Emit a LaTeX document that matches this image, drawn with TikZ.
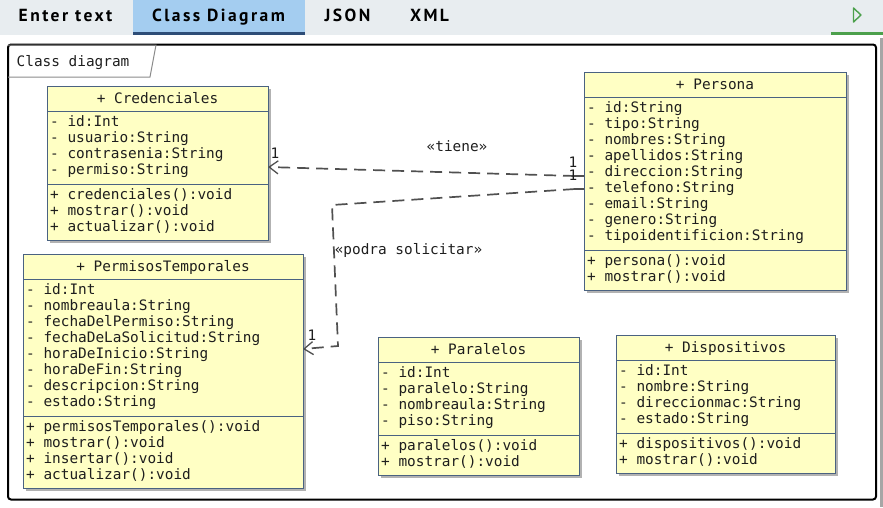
\documentclass[tikz,border=0pt]{standalone}
\usepackage{fontspec}
\newfontfamily\monof{DejaVu Sans Mono}
\newfontfamily\tabf[LetterSpace=14]{PT Sans}
\usetikzlibrary{arrows.meta,calc,shadows}
\definecolor{barbg}{HTML}{E8EDF0}
\definecolor{tabhl}{HTML}{A4CDF0}
\definecolor{tabline}{HTML}{2E4D77}
\definecolor{playgreen}{HTML}{4CA04C}
\definecolor{classfill}{HTML}{FFFFC4}
\definecolor{classdraw}{HTML}{4A6281}
\definecolor{txt}{HTML}{1E1E1E}
\definecolor{conn}{HTML}{505050}
\definecolor{framegray}{HTML}{8A8A8A}
\tikzset{
  classbox/.style={draw=classdraw, fill=classfill, line width=1pt, inner sep=0pt, outer sep=0pt,
    drop shadow={opacity=0.3, shadow xshift=2.5pt, shadow yshift=-2.5pt, fill=black}},
  classsep/.style={draw=classdraw, line width=1pt},
  member/.style={font=\monof\fontsize{14.4}{16}\selectfont, text=txt, inner sep=0pt},
  tabtext/.style={font=\tabf\bfseries\fontsize{17.5}{20}\selectfont, text=black, inner sep=0pt},
  dep/.style={draw=conn, line width=1.7pt, dash pattern=on 12pt off 7pt},
  stub/.style={draw=conn, line width=1.5pt},
  openarrow/.style={-{Straight Barb[length=9pt,width=13pt,line width=1.3pt]}},
}
\newcommand\umlclass[9]{%
  \pgfmathsetmacro\ya{#3+25}%
  \pgfmathsetmacro\yb{\ya+#7*16+9}%
  \pgfmathsetmacro\yc{\yb+#9*16+8}%
  \pgfmathsetmacro\w{#4-#2}%
  \pgfmathsetmacro\h{\yc-#3}%
  \node[classbox, minimum width=\w pt, minimum height=\h pt, anchor=north west] (#1) at (#2,#3) {};
  \draw[classsep] (#2,\ya) -- (#4,\ya) (#2,\yb) -- (#4,\yb);
  \node[member, anchor=base] (#1-title) at ({(#2+#4)/2},#3+17.5) {#5};
  \foreach \t [count=\i from 0] in {#6}
    \node[member, anchor=base west] (#1-a\i) at (#2+3,\ya+15+\i*16) {\t};
  \foreach \t [count=\i from 0] in {#8}
    \node[member, anchor=base west] (#1-m\i) at (#2+3,\yb+15+\i*16) {\t};
}
\begin{document}
\begin{tikzpicture}[x=1pt,y=-1pt]
\useasboundingbox (0,0) rectangle (883,507);
% top bar
\fill[barbg] (0,0) rectangle (883,34.5);
\fill[tabhl] (133,0) rectangle (305,32.5);
\fill[tabline] (133,32) rectangle (305,35);
\fill[playgreen] (831,32) rectangle (883,35);
\draw[playgreen, line width=1.4pt, line join=round] (853.5,8) -- (861,15) -- (853.5,22) -- cycle;
\node[tabtext, anchor=base] (tab1) at (65.5,21.7) {Enter text};
\node[tabtext, anchor=base] (tab2) at (218.5,21.7) {Class Diagram};
\node[tabtext, anchor=base] (tab3) at (347.5,21.7) {JSON};
\node[tabtext, anchor=base] (tab4) at (429.5,21.7) {XML};
% scrollbar line
\fill[gray!70] (880,38) rectangle (883,507);
% frame
\draw[black, line width=2pt, rounded corners=3pt] (8,44.5) rectangle (876,499.5);
\draw[framegray, line width=1pt] (8,45) -- (156,45) -- (150,77) -- (8,77);
\node[member, anchor=base west] (frametitle) at (16.5,66) {Class diagram};
% classes
\umlclass{cred}{47}{86}{268}{+ Credenciales}{- id:Int,- usuario:String,- contrasenia:String,- permiso:String}{4}{+ credenciales():void,+ mostrar():void,+ actualizar():void}{3}
\umlclass{pers}{584}{72}{846}{+ Persona}{- id:String,- tipo:String,- nombres:String,- apellidos:String,- direccion:String,- telefono:String,- email:String,- genero:String,- tipoidentificion:String}{9}{+ persona():void,+ mostrar():void}{2}
\umlclass{perm}{23}{254}{303}{+ PermisosTemporales}{- id:Int,- nombreaula:String,- fechaDelPermiso:String,- fechaDeLaSolicitud:String,- horaDeInicio:String,- horaDeFin:String,- descripcion:String,- estado:String}{8}{+ permisosTemporales():void,+ mostrar():void,+ insertar():void,+ actualizar():void}{4}
\umlclass{para}{378}{337}{579}{+ Paralelos}{- id:Int,- paralelo:String,- nombreaula:String,- piso:String}{4}{+ paralelos():void,+ mostrar():void}{2}
\umlclass{disp}{616}{335}{835}{+ Dispositivos}{- id:Int,- nombre:String,- direccionmac:String,- estado:String}{4}{+ dispositivos():void,+ mostrar():void}{2}
% connector: tiene
\coordinate (p1) at ($(pers.north west)+(0,104)$);
\coordinate (p1s) at ($(p1)+(-9,0)$);
\coordinate (c1) at ($(cred.north east)+(0,81)$);
\draw[stub] (p1) -- (p1s);
\draw[dep, openarrow] (p1s) -- (c1);
% connector: podra solicitar
\coordinate (p2) at ($(pers.north west)+(0,117)$);
\coordinate (p2s) at ($(p2)+(-9,0)$);
\coordinate (k1) at (332,205);
\coordinate (k2) at (338,346);
\coordinate (q1) at ($(perm.north east)+(0,95)$);
\draw[stub] (p2) -- (p2s);
\draw[dep, openarrow] (p2s) -- (k1) -- (k2) -- (q1);
% labels
\node[member] (l1) at (275,153) {1};
\node[member] (l2) at (573,162) {1};
\node[member] (l3) at (573,175) {1};
\node[member] (l4) at (312,335) {1};
\node[member] (ltiene) at (457,146) {«tiene»};
\node[member] (lpodra) at (408.5,250) {«podra solicitar»};
\end{tikzpicture}
\end{document}
